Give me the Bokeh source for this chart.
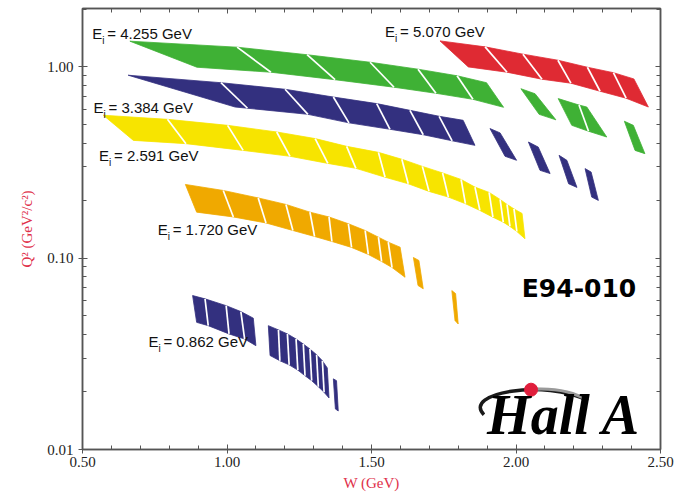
from bokeh.plotting import figure
from bokeh.models import Range1d, FixedTicker, PrintfTickFormatter, LinearAxis, LogAxis, Label
from bokeh.embed import file_html
from bokeh.resources import INLINE

# ---------------------------------------------------------------------------
# Kinematic coverage of each beam energy: every band is split into pieces,
# each piece is a run of slices bounded by lines of constant E'.  For every
# slice edge the W / Q^2 values at the upper and lower acceptance limits.
# ---------------------------------------------------------------------------
beam_energies = ["5.070", "4.255", "3.384", "2.591", "1.720", "0.862"]

e5070_w_top = [[1.737, 1.893, 2.024, 2.145, 2.247, 2.337, 2.408]]
e5070_q2_top = [[1.368, 1.273, 1.166, 1.084, 0.996, 0.933, 0.865]]
e5070_w_bot = [[1.835, 1.969, 2.090, 2.190, 2.291, 2.381, 2.458]]
e5070_q2_bot = [[1.000, 0.938, 0.862, 0.822, 0.746, 0.686, 0.617]]

e4255_w_top = [[0.664, 1.035, 1.277, 1.495, 1.661, 1.796, 1.898],
               [2.017, 2.066], [2.146, 2.218, 2.245], [2.375, 2.406]]
e4255_q2_top = [[1.363, 1.268, 1.158, 1.058, 0.973, 0.899, 0.827],
                [0.769, 0.724], [0.683, 0.632, 0.617], [0.520, 0.495]]
e4255_w_bot = [[0.896, 1.152, 1.374, 1.578, 1.723, 1.851, 1.957],
               [2.080, 2.138], [2.193, 2.251, 2.314], [2.412, 2.446]]
e4255_q2_bot = [[0.996, 0.938, 0.857, 0.783, 0.728, 0.677, 0.615],
                [0.565, 0.529], [0.495, 0.461, 0.430], [0.366, 0.352]]

e3384_w_top = [[0.658, 0.979, 1.201, 1.368, 1.518, 1.633, 1.734, 1.817],
               [1.910, 1.945], [2.043, 2.077], [2.149, 2.176], [2.239, 2.260]]
e3384_q2_top = [[0.905, 0.827, 0.764, 0.696, 0.643, 0.593, 0.552, 0.526],
                [0.476, 0.452], [0.405, 0.381], [0.345, 0.325], [0.294, 0.282]]
e3384_w_bot = [[1.028, 1.071, 1.280, 1.422, 1.564, 1.679, 1.779, 1.858],
               [1.962, 2.002], [2.083, 2.118], [2.182, 2.211], [2.262, 2.285]]
e3384_q2_bot = [[0.617, 0.608, 0.565, 0.510, 0.472, 0.442, 0.411, 0.389],
                [0.341, 0.325], [0.288, 0.277], [0.245, 0.2345], [0.2087, 0.2005]]

e2591_w_top = [[0.572, 0.794, 1.002, 1.172, 1.305, 1.414, 1.524, 1.605, 1.676,
                1.746, 1.810, 1.858, 1.907, 1.945, 1.969, 1.993, 2.021]]
e2591_q2_top = [[0.559, 0.532, 0.495, 0.457, 0.422, 0.3844, 0.3575, 0.329, 0.302,
                 0.279, 0.258, 0.2353, 0.2208, 0.2029, 0.191, 0.181, 0.1714]]
e2591_w_bot = [[0.676, 0.858, 1.056, 1.218, 1.349, 1.446, 1.547, 1.627, 1.699,
                1.766, 1.825, 1.875, 1.920, 1.956, 1.979, 2.003, 2.031]]
e2591_q2_bot = [[0.413, 0.397, 0.366, 0.341, 0.313, 0.295, 0.265, 0.245, 0.2235,
                 0.2087, 0.1927, 0.1777, 0.1639, 0.1543, 0.1466, 0.1379, 0.1264]]

e1720_w_top = [[0.856, 0.987, 1.108, 1.204, 1.287, 1.353, 1.420, 1.478, 1.524, 1.558, 1.599],
               [1.645, 1.664], [1.778, 1.791]]
e1720_q2_top = [[0.243, 0.226, 0.2066, 0.191, 0.1741, 0.1643, 0.1514, 0.1396, 0.1288, 0.1213, 0.1142],
                [0.1009, 0.0973], [0.0677, 0.0653]]
e1720_w_bot = [[0.895, 1.022, 1.135, 1.228, 1.303, 1.363, 1.431, 1.489, 1.535, 1.571, 1.616],
               [1.661, 1.679], [1.789, 1.800]]
e1720_q2_bot = [[0.1741, 0.1643, 0.1528, 0.1396, 0.1299, 0.1223, 0.1138, 0.1046, 0.0961, 0.0894, 0.0795],
                [0.0720, 0.0692], [0.0472, 0.0453]]

e0862_w_top = [[0.881, 0.924, 0.997, 1.048, 1.091],
               [1.143, 1.178, 1.209, 1.239, 1.264, 1.287, 1.310, 1.330, 1.347],
               [1.368, 1.379]]
e0862_q2_top = [[0.0638, 0.0613, 0.0565, 0.0526, 0.0486],
                [0.0444, 0.0422, 0.0402, 0.0378, 0.0356, 0.0335, 0.0313, 0.0291, 0.0267],
                [0.0234, 0.0229]]
e0862_w_bot = [[0.895, 0.935, 1.007, 1.061, 1.100],
               [1.149, 1.183, 1.215, 1.245, 1.270, 1.293, 1.316, 1.336, 1.353],
               [1.375, 1.385]]
e0862_q2_bot = [[0.0462, 0.0444, 0.0402, 0.0378, 0.0349],
                [0.0310, 0.0291, 0.0277, 0.0260, 0.0243, 0.0229, 0.0213, 0.0199, 0.0186],
                [0.0163, 0.0159]]

# axis ticks
w_ticks = [0.5, 1.0, 1.5, 2.0, 2.5]
w_minor = [0.6, 0.7, 0.8, 0.9, 1.1, 1.2, 1.3, 1.4, 1.6, 1.7, 1.8, 1.9, 2.1, 2.2, 2.3, 2.4]
q2_ticks = [0.01, 0.1, 1.0]
q2_minor = [0.02, 0.03, 0.04, 0.05, 0.06, 0.07, 0.08, 0.09,
            0.2, 0.3, 0.4, 0.5, 0.6, 0.7, 0.8, 0.9, 2.0]

band_colors = ["#df2a33", "#3fb135", "#33307f", "#f7e400", "#f0a900", "#33307f"]
bands = [
    (e5070_w_top, e5070_q2_top, e5070_w_bot, e5070_q2_bot),
    (e4255_w_top, e4255_q2_top, e4255_w_bot, e4255_q2_bot),
    (e3384_w_top, e3384_q2_top, e3384_w_bot, e3384_q2_bot),
    (e2591_w_top, e2591_q2_top, e2591_w_bot, e2591_q2_bot),
    (e1720_w_top, e1720_q2_top, e1720_w_bot, e1720_q2_bot),
    (e0862_w_top, e0862_q2_top, e0862_w_bot, e0862_q2_bot),
]

p = figure(width=675, height=493, y_axis_type="log",
           x_range=Range1d(0.5, 2.5), y_range=Range1d(0.01, 2.02),
           output_backend="svg", toolbar_location=None,
           min_border_left=82, min_border_right=15,
           min_border_top=8, min_border_bottom=44)
p.grid.grid_line_color = None
p.outline_line_color = "#555555"
p.outline_line_width = 1.5
p.background_fill_color = "white"
p.border_fill_color = "white"

# slices of every band, with thin white gaps along the inner E' edges
for color, (wt, qt, wb, qb) in zip(band_colors, bands):
    xs, ys = [], []
    sx0, sy0, sx1, sy1 = [], [], [], []
    for pwt, pqt, pwb, pqb in zip(wt, qt, wb, qb):
        for i in range(len(pwt) - 1):
            xs.append([pwt[i], pwt[i + 1], pwb[i + 1], pwb[i]])
            ys.append([pqt[i], pqt[i + 1], pqb[i + 1], pqb[i]])
        for i in range(1, len(pwt) - 1):
            sx0.append(pwt[i]); sy0.append(pqt[i])
            sx1.append(pwb[i]); sy1.append(pqb[i])
    p.patches(xs, ys, fill_color=color, line_color=color, line_width=0.8)
    if sx0:
        p.segment(x0=sx0, y0=sy0, x1=sx1, y1=sy1, line_color="white", line_width=1.7)

# axes
tick_font = "Liberation Serif"
axis_red = "#e0304a"
xa = p.xaxis[0]
ya = p.yaxis[0]
xa.ticker = FixedTicker(ticks=w_ticks, minor_ticks=w_minor)
ya.ticker = FixedTicker(ticks=q2_ticks, minor_ticks=q2_minor)
xa.formatter = PrintfTickFormatter(format="%.2f")
ya.formatter = PrintfTickFormatter(format="%.2f")
for ax in (xa, ya):
    ax.axis_line_color = "#555555"
    ax.axis_line_width = 1.5
    ax.major_tick_line_color = "#555555"
    ax.minor_tick_line_color = "#555555"
    ax.major_tick_in = 5
    ax.major_tick_out = 4
    ax.minor_tick_in = 4
    ax.minor_tick_out = 0
    ax.major_label_text_font = tick_font
    ax.major_label_text_font_size = "15px"
    ax.major_label_text_color = "#222222"
    ax.axis_label_text_font = tick_font
    ax.axis_label_text_font_size = "15px"
    ax.axis_label_text_font_style = "normal"
    ax.axis_label_text_color = axis_red
xa.major_label_standoff = 3
ya.major_label_standoff = 5
xa.axis_label = "W (GeV)"
xa.axis_label_standoff = 5
ya.axis_label = "Q² (GeV²/c²)"
ya.axis_label_standoff = 9

# mirrored tick marks along the top and right edges (no labels)
top_axis = LinearAxis(ticker=FixedTicker(ticks=w_ticks, minor_ticks=w_minor),
                      major_label_text_font_size="1px", major_label_text_color=None)
right_axis = LogAxis(ticker=FixedTicker(ticks=q2_ticks, minor_ticks=q2_minor),
                     major_label_text_font_size="1px", major_label_text_color=None)
for ax in (top_axis, right_axis):
    ax.axis_line_color = "#555555"
    ax.axis_line_width = 1.5
    ax.major_tick_line_color = "#555555"
    ax.minor_tick_line_color = "#555555"
    ax.major_tick_in = 5
    ax.major_tick_out = 0
    ax.minor_tick_in = 4
    ax.minor_tick_out = 0
    ax.major_label_standoff = 0
p.add_layout(top_axis, "above")
p.add_layout(right_axis, "right")

# beam-energy labels: E with subscript i (y_offset drops the text box so the
# given point sits on the baseline)
label_spots = [(1.547, 1.436), (0.534, 1.392), (0.538, 0.572),
               (0.557, 0.322), (0.760, 0.1315), (0.728, 0.0345)]
for energy, (lx, ly) in zip(beam_energies, label_spots):
    common = dict(x=lx, y=ly, text_font="Liberation Sans", text_color="#111111")
    p.add_layout(Label(text="E", text_font_size="15px", y_offset=-3, **common))
    p.add_layout(Label(text="i", text_font_size="10px", x_offset=10, y_offset=-7, **common))
    p.add_layout(Label(text=f"= {energy} GeV", text_font_size="15px", x_offset=15,
                       y_offset=-3, **common))

# experiment tag
p.add_layout(Label(x=2.020, y=0.0625, y_offset=-6, text="E94-010", text_font="DejaVu Sans",
                   text_font_style="bold", text_font_size="25px", text_color="black"))

# Hall A logo: swoosh (dark on the left, fading to grey on the right),
# red dot and lettering
p.bezier(x0=[1.889], y0=[0.0152], x1=[2.249], y1=[0.0180],
         cx0=[1.813], cy0=[0.0198], cx1=[2.100], cy1=[0.02345],
         line_color="#1a1a1a", line_width=3.5)
p.bezier(x0=[2.052], y0=[0.0206], x1=[2.249], y1=[0.0180],
         cx0=[2.130], cy0=[0.0210], cx1=[2.200], cy1=[0.0200],
         line_color="#9a9a9a", line_width=3.0)
p.scatter(x=[2.052], y=[0.02054], size=13, fill_color="#e01e3c", line_color="#e01e3c")
p.add_layout(Label(x=1.900, y=0.01209, y_offset=-12, text="Hall A", text_font="Liberation Serif",
                   text_font_style="bold italic", text_font_size="56px", text_color="black"))

open("out.html", "w").write(file_html(p, INLINE))
